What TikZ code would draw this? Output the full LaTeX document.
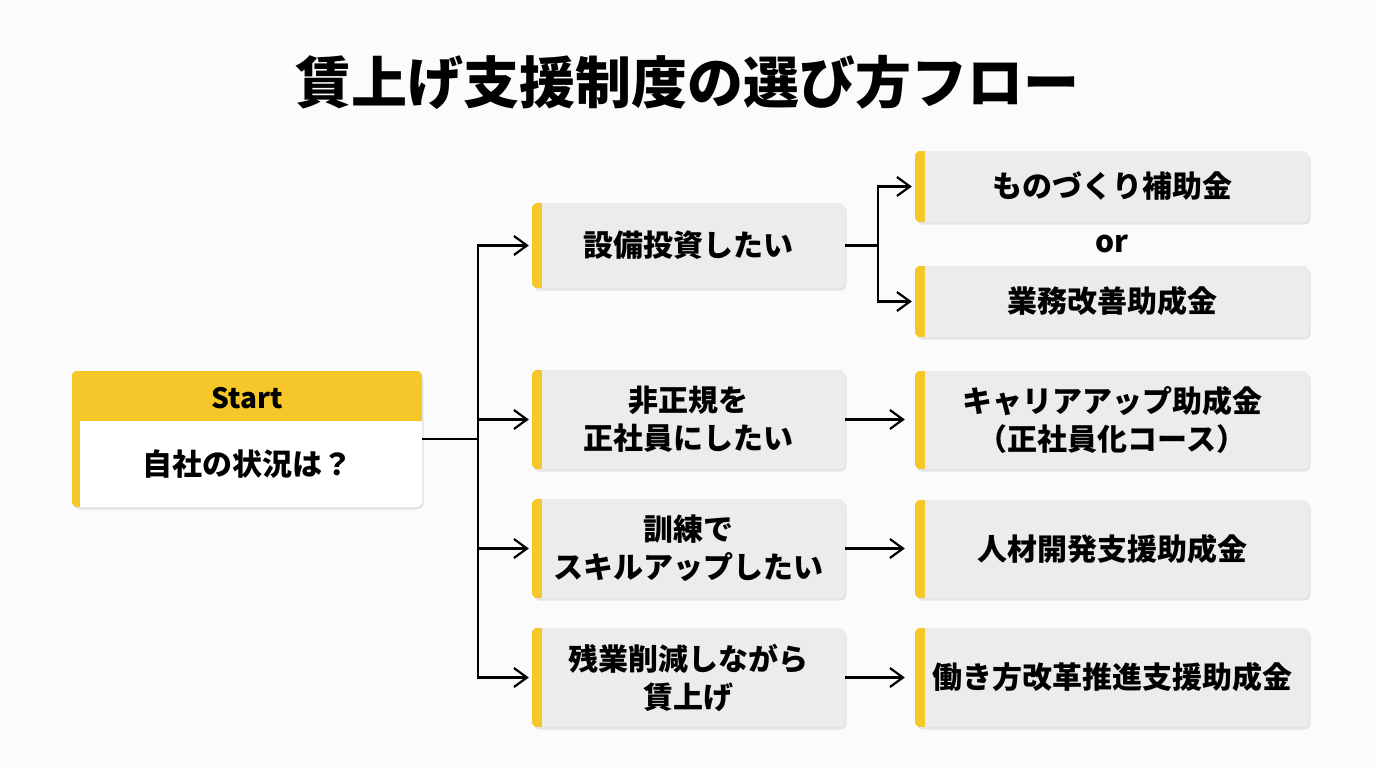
\documentclass[tikz,border=0pt]{standalone}
\usepackage{fontspec}
\setmainfont{Noto Sans CJK JP}
\usetikzlibrary{arrows.meta,shadows}
\definecolor{myyellow}{HTML}{F5C72B}
\definecolor{gbox}{HTML}{ECECEC}
\definecolor{bgc}{HTML}{FBFBFB}
\newcommand{\mybar}[2]{%
  \begin{scope}
    \clip[rounded corners=6pt] (#1.south west) rectangle (#1.north east);
    \fill[fill=myyellow] (#1.south west) rectangle ([xshift=#2]#1.north west);
  \end{scope}}
\tikzset{
  boxsh/.style={drop shadow={opacity=0.18, shadow xshift=1.5pt, shadow yshift=-2.5pt}},
  optbox/.style={boxsh, fill=gbox, rounded corners=6pt, inner sep=0pt, align=center,
    font=\bfseries\fontsize{30}{38}\selectfont, text=black},
  midbox/.style={optbox, minimum width=313pt},
  resbox/.style={optbox, minimum width=394pt},
  conn/.style={line width=2.2pt, draw=black},
  arr/.style={conn, -{Straight Barb[length=13pt,width=19pt,line width=2.2pt]}},
}
\begin{document}
\begin{tikzpicture}[x=1pt,y=-1pt]
\fill[bgc] (0,0) rectangle (1376,768);
\useasboundingbox (0,0) rectangle (1376,768);

\node[font=\bfseries\fontsize{56}{62}\selectfont] (title) at (687,82) {賃上げ支援制度の選び方フロー};

% start box
\node[boxsh, fill=white, rounded corners=6pt, minimum width=350pt, minimum height=136pt, inner sep=0pt]
  (start) at (247,439) {};
\begin{scope}
  \clip[rounded corners=6pt] (start.south west) rectangle (start.north east);
  \fill[fill=myyellow] (start.north west) rectangle ([yshift=-50pt]start.north east);
  \fill[fill=myyellow] (start.north west) rectangle ([xshift=8pt]start.south west);
\end{scope}
\node[font=\bfseries\fontsize{28}{32}\selectfont, text=black] (starthdr) at (247,398) {Start};
\node[font=\bfseries\fontsize{30}{36}\selectfont, text=black] (starttxt) at (247,464) {自社の状況は？};

% middle boxes
\node[midbox, minimum height=85pt] (m1) at (688.5,245.5) {設備投資したい};
\node[midbox, minimum height=99pt] (m2) at (688.5,419.5) {非正規を\\正社員にしたい};
\node[midbox, minimum height=99pt] (m3) at (688.5,548.5) {訓練で\\スキルアップしたい};
\node[midbox, minimum height=99pt] (m4) at (688.5,677.5) {残業削減しながら\\賃上げ};
\mybar{m1}{10pt}\mybar{m2}{10pt}\mybar{m3}{10pt}\mybar{m4}{10pt}

% result boxes
\node[resbox, minimum height=71pt] (r1) at (1112,186.5) {ものづくり補助金};
\node[resbox, minimum height=71pt] (r2) at (1112,301.5) {業務改善助成金};
\node[resbox, minimum height=98pt] (r3) at (1112,420) {キャリアアップ助成金\\（正社員化コース）};
\node[resbox, minimum height=98pt] (r4) at (1112,549) {人材開発支援助成金};
\node[resbox, minimum height=99pt] (r5) at (1112,677.5) {働き方改革推進支援助成金};
\mybar{r1}{10pt}\mybar{r2}{10pt}\mybar{r3}{10pt}\mybar{r4}{10pt}\mybar{r5}{10pt}

\node[font=\bfseries\fontsize{30}{36}\selectfont] (or) at (1112,244) {or};

% connectors
\draw[conn] (start.east) -- (478,439) coordinate (j);
\draw[arr, shorten >=3pt] (j) |- (m1.west);
\draw[arr, shorten >=3pt] (j) |- (m2.west);
\draw[arr, shorten >=3pt] (j) |- (m3.west);
\draw[arr, shorten >=3pt] (j) |- (m4.west);

\draw[conn] (m1.east) -- (878,245.5) coordinate (k);
\draw[arr, shorten >=3pt] (k) |- (r1.west);
\draw[arr, shorten >=3pt] (k) |- (r2.west);

\draw[arr, shorten >=10pt] (m2.east) -- (m2.east -| r3.west);
\draw[arr, shorten >=10pt] (m3.east) -- (m3.east -| r4.west);
\draw[arr, shorten >=10pt] (m4.east) -- (m4.east -| r5.west);
\end{tikzpicture}
\end{document}
